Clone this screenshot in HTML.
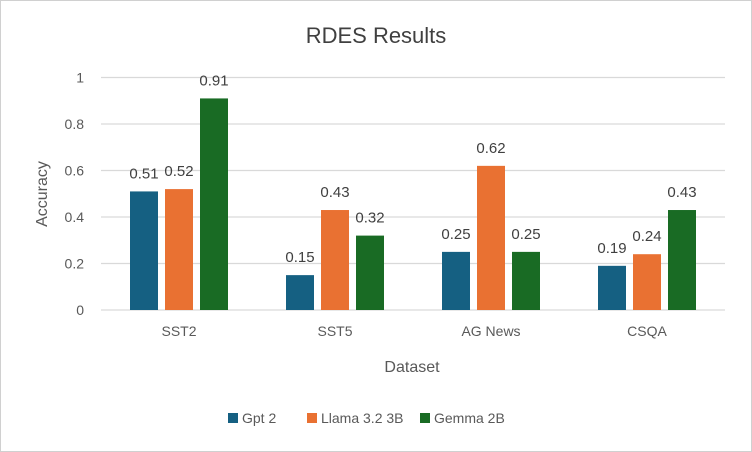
<!DOCTYPE html>
<html><head><meta charset="utf-8"><style>
body{margin:0;background:#fff;font-family:"Liberation Sans",sans-serif}
#c{position:absolute;left:0;top:0;width:750px;height:450px;border:1px solid #d0d0d0;background:#fff}
</style></head><body>
<div id="c">
<svg id="s" width="752" height="452" style="position:absolute;left:-1px;top:-1px" font-family="Liberation Sans, sans-serif"></svg>
</div>
<script>
const categories=["SST2","SST5","AG News","CSQA"];
const seriesNames=["Gpt 2","Llama 3.2 3B","Gemma 2B"];
const gpt2=[0.51,0.15,0.25,0.19];
const llama=[0.52,0.43,0.62,0.24];
const gemma=[0.91,0.32,0.25,0.43];
const yTicks=[0,0.2,0.4,0.6,0.8,1];
const colors=["#156082","#e97132","#196b24"];
const series=[gpt2,llama,gemma];
const s=document.getElementById('s');
const NS='http://www.w3.org/2000/svg';
const L=101,R=725,T=77.5,B=310;
const y=v=>B-(B-T)*v;
const cw=(R-L)/categories.length;
const cx=i=>L+cw*(i+0.5);
function el(t,a,txt){const e=document.createElementNS(NS,t);for(const k in a)e.setAttribute(k,a[k]);if(txt!==undefined)e.textContent=txt;s.appendChild(e);return e;}
const title=el('text',{x:376,y:43,'text-anchor':'middle','font-size':22,fill:'#404040'},'RDES Results');


yTicks.forEach(v=>{
 const g=el('line',{x1:L,x2:R,y1:y(v),y2:y(v),stroke:'#d9d9d9','stroke-width':1.3});
 
 
 const t=el('text',{x:L-17,y:y(v)+5,'text-anchor':'end','font-size':14,fill:'#595959'},String(v));
 
 
});
const bw=28,step=35;
categories.forEach((c,i)=>{
 series.forEach((arr,j)=>{
  const x=cx(i)-bw/2+(j-1)*step;
  const r=el('rect',{x:x,y:y(arr[i]),width:bw,height:B-y(arr[i]),fill:colors[j]});
  
  
  const t=el('text',{x:x+bw/2,y:y(arr[i])-13,'text-anchor':'middle','font-size':15,fill:'#404040'},String(arr[i]));
  
  
 });
 const t=el('text',{x:cx(i),y:336,'text-anchor':'middle','font-size':14,fill:'#595959'},c);
 
 
});
const xt=el('text',{x:412,y:372,'text-anchor':'middle','font-size':16,fill:'#595959'},'Dataset');


const yt=el('text',{x:0,y:0,'text-anchor':'middle','font-size':16,fill:'#595959',transform:'translate(47,194) rotate(-90)'},'Accuracy');


const lx=[228,307,420];
seriesNames.forEach((n,j)=>{
 const r=el('rect',{x:lx[j],y:413,width:10,height:10,fill:colors[j]});
 
 
 const t=el('text',{x:lx[j]+14,y:423,'font-size':14,fill:'#595959'},n);
 
 
});
</script>
</body></html>
